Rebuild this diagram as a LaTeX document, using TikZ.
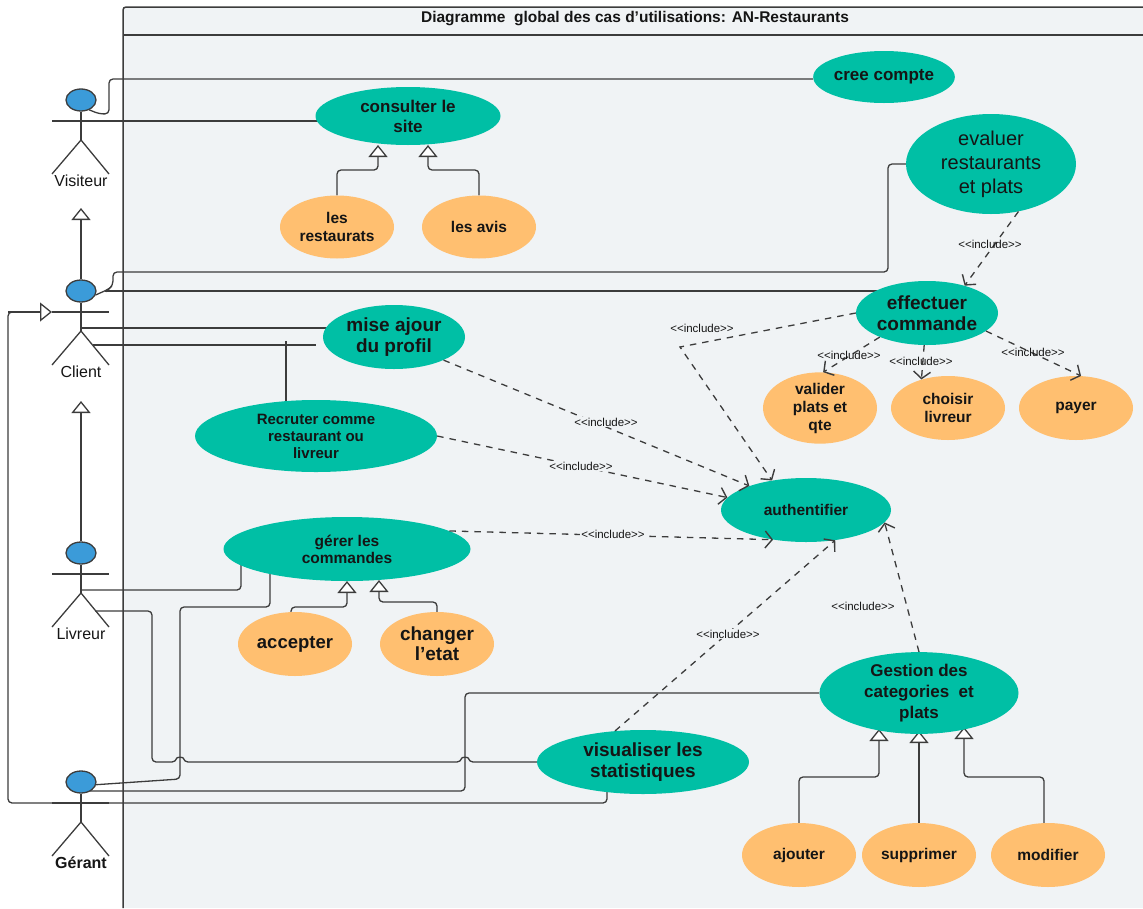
\documentclass[tikz,border=0pt]{standalone}
\usepackage{fontspec}
\setmainfont{Liberation Sans}
\usetikzlibrary{shapes.geometric,arrows.meta,backgrounds}
\definecolor{teal}{HTML}{00BFA5}
\definecolor{orangeuc}{HTML}{FFBF70}
\definecolor{bluehead}{HTML}{3B9BD9}
\definecolor{framebg}{HTML}{F0F3F5}
\definecolor{ink}{HTML}{3C3C3C}
\definecolor{txt}{HTML}{151515}
\tikzset{
  usecase/.style={ellipse,inner sep=0pt,align=center,text=txt,font=\bfseries\fontsize{17}{20}\selectfont},
  main/.style={usecase,fill=teal},
  sub/.style={usecase,fill=orangeuc,font=\bfseries\fontsize{15.5}{18}\selectfont},
  conn/.style={draw=ink,line width=1.3pt,rounded corners=4pt},
  gen/.style={conn,-{Triangle[open,fill=white,length=12pt,width=19pt]}},
  inc/.style={draw=ink,line width=1.3pt,dash pattern=on 6.5pt off 6pt,-{Straight Barb[length=7pt,width=17pt,line width=1.4pt]}},
  inclabel/.style={font=\fontsize{11.5}{13}\selectfont,text=txt,inner sep=1pt},
  actorline/.style={draw=ink,line width=1.3pt},
  actorhead/.style={ellipse,draw=ink,line width=1.3pt,fill=bluehead,minimum width=30pt,minimum height=22pt,inner sep=0pt},
  actorlabel/.style={font=\fontsize{16}{18}\selectfont,text=txt},
}
\newcommand{\umlactor}[4]{%
  \node[actorhead] (#1) at (81,#2) {};
  \coordinate (#1-l) at (52,#2+21);
  \coordinate (#1-r) at (109,#2+21);
  \coordinate (#1-hip) at (81,#2+40);
  \coordinate (#1-fl) at (52,#2+74);
  \coordinate (#1-fr) at (109,#2+74);
  \draw[actorline] (#1-l) -- (#1-r);
  \draw[actorline] (#1) -- (#1-hip);
  \draw[actorline] (#1-fl) -- (#1-hip) -- (#1-fr);
  \node[actorlabel,#4] (#1-label) at (81,#2+81) {#3};
}
\begin{document}
\begin{tikzpicture}[x=1pt,y=-1pt]
\useasboundingbox (0,0) rectangle (1143,908);
% use cases
\node[main,minimum width=128pt,minimum height=52pt] (cree) at (884,77) {cree compte};
\node[main,minimum width=185pt,minimum height=58pt] (consulter) at (408,116) {consulter le\\site};
\node[sub,minimum width=114pt,minimum height=63pt] (restaurats) at (337,227) {les\\restaurats};
\node[sub,minimum width=114pt,minimum height=63pt] (avis) at (479,227) {les avis};
\node[main,minimum width=170pt,minimum height=100pt,font=\fontsize{20}{24}\selectfont] (evaluer) at (991,164) {evaluer\\restaurants\\et plats};
\node[main,minimum width=142pt,minimum height=64pt,font=\bfseries\fontsize{19}{21}\selectfont] (effectuer) at (927,313) {effectuer\\commande};
\node[sub,minimum width=114pt,minimum height=64pt] (valider) at (820,408) {valider\\plats et\\qte};
\node[sub,minimum width=114pt,minimum height=64pt] (choisir) at (948,408) {choisir\\livreur};
\node[sub,minimum width=114pt,minimum height=64pt] (payer) at (1076,408) {payer};
\node[main,minimum width=142pt,minimum height=64pt,font=\bfseries\fontsize{19}{21}\selectfont] (mise) at (394,337) {mise ajour\\du profil};
\node[main,minimum width=242pt,minimum height=72pt,font=\bfseries\fontsize{15}{17}\selectfont] (recruter) at (316,436) {Recruter comme\\restaurant ou\\livreur};
\node[main,minimum width=170pt,minimum height=64pt,font=\bfseries\fontsize{15.5}{18}\selectfont] (auth) at (806,510) {authentifier};
\node[main,minimum width=247pt,minimum height=64pt,font=\bfseries\fontsize{15.5}{17}\selectfont] (gerer) at (347,549) {gérer les\\commandes};
\node[sub,minimum width=114pt,minimum height=64pt,font=\bfseries\fontsize{18.5}{20}\selectfont] (accepter) at (295,644) {accepter};
\node[sub,minimum width=114pt,minimum height=64pt,font=\bfseries\fontsize{19}{20}\selectfont] (changer) at (437,644) {changer\\l'etat};
\node[main,minimum width=199pt,minimum height=78pt,font=\bfseries\fontsize{17}{21}\selectfont] (gestion) at (919,693) {Gestion des\\categories~ et\\plats};
\node[main,minimum width=212pt,minimum height=64pt,font=\bfseries\fontsize{19}{21}\selectfont] (visualiser) at (643,762) {visualiser les\\statistiques};
\node[sub,minimum width=114pt,minimum height=64pt] (ajouter) at (799,855) {ajouter};
\node[sub,minimum width=114pt,minimum height=64pt] (supprimer) at (919,855) {supprimer};
\node[sub,minimum width=114pt,minimum height=64pt] (modifier) at (1048,855) {modifier};
% actors
\umlactor{visiteur}{100}{Visiteur}{}
\umlactor{client}{291}{Client}{}
\umlactor{livreur}{553}{Livreur}{}
\umlactor{gerant}{782}{Gérant}{font=\bfseries\fontsize{16}{18}\selectfont}
% title
\node[font=\bfseries\fontsize{15.5}{18}\selectfont,text=txt,inner sep=0pt] (title) at (635,19) {Diagramme~ global des cas d'utilisations: AN-Restaurants};
\coordinate (cl-hip) at (81,328);
\coordinate (cl-low) at (93,345);
\coordinate (li-hip) at (81,590);
\coordinate (li-low) at (95,611);
\coordinate (ge-low) at (90,791);
\coordinate (ge-mid) at (95,779);
\begin{scope}[on background layer]
  % frame
  \fill[framebg] (123,908) -- (123,7) -- (1143,7) -- (1143,908) -- cycle;
  \draw[ink,line width=1.5pt,rounded corners=3pt] (123,908) -- (123,7) -- (1150,7);
  \draw[ink,line width=1.5pt] (123,35) -- (1143,35);
  % actor associations
  \draw[conn] (visiteur.-50) -- ++(10,4) -| (109,79) -- (cree.west |- 0,79);
  \draw[conn] (visiteur-r) -- (visiteur-r -| consulter);
  \draw[conn] (client.-15) -- (109,289) -- (113,285) -- (113,272) -- (888,272) -- (888,164) -- (evaluer);
  \draw[conn] (105,291) -- (105,291 -| effectuer);
  \draw[conn] (cl-hip) -- (cl-hip -| mise);
  \draw[conn] (cl-low) -- (cl-low -| recruter.north) ++(-30,0) -- (286,345) -- (286,420);
  \draw[conn] (li-hip) -- (241,590) -- (241,550);
  \draw[conn] (270,550) -- (270,607) -- (180,607) -- (180,779) -- (gerant.-10);
  \draw[conn] (li-low) -- (152,611) -- (152,762) -- (176,762) .. controls (177,757) and (183,757) .. (184,762) -- (461,762) .. controls (462,757) and (468,757) .. (469,762) -- (visualiser);
  \draw[conn] (ge-low) -- (465,791) -- (465,693) -- (gestion);
  \draw[conn] (visiteur.-90) ++(0,0);
  \draw[conn] (607,770) -- (607,803) -- (8,803) -- (8,312) -- (35,312);
  % generalisations
  \draw[gen] (client) -- (81,208);
  \draw[gen] (livreur) -- (81,401);
  \draw[gen] (8,312) -- (52,312);
  \draw[gen] (restaurats.north) -- (337,170) -- (378,170) -- (378,145);
  \draw[gen] (avis.north) -- (479,170) -- (428,170) -- (428,145);
  \draw[gen] (291,620) -- (291,607) -- (347,607) -- (347,581);
  \draw[gen] (changer.north) -- (437,602) -- (379,602) -- (379,580);
  \draw[gen] (ajouter.north) -- (799,777) -- (879,777) -- (879,729);
  \draw[gen] (supprimer.north) -- (919,731);
  \draw[gen] (1044,830) -- (1044,777) -- (964,777) -- (964,727);
\end{scope}
% includes
\draw[inc] (evaluer.-60) -- (effectuer.36);
\draw[inc] (effectuer.west) -- (680,347) -- (auth.139);
\draw[inc] (effectuer.207) -- (valider.85);
\draw[inc] (effectuer.265) -- (choisir.133);
\draw[inc] (effectuer.-17) -- (payer.81);
\draw[inc] (mise.-25) -- (auth.157.5);
\draw[inc] (recruter.east) -- (auth.171.6);
\draw[inc] (gerer.10) -- (auth.222);
\draw[inc] (visualiser.132) -- (auth.-46);
\draw[inc] (gestion.north) -- (auth.-9.3);
\node[inclabel] (l1) at (990,244) {<{}<include>{}>};
\node[inclabel] (l2) at (702,328) {<{}<include>{}>};
\node[inclabel] (l3) at (849,355) {<{}<include>{}>};
\node[inclabel] (l4) at (921,361) {<{}<include>{}>};
\node[inclabel] (l5) at (1033,352) {<{}<include>{}>};
\node[inclabel,fill=framebg] (l6) at (606,422) {<{}<include>{}>};
\node[inclabel,fill=framebg] (l7) at (581,466) {<{}<include>{}>};
\node[inclabel,fill=framebg] (l8) at (613,534) {<{}<include>{}>};
\node[inclabel,fill=framebg] (l9) at (728,634) {<{}<include>{}>};
\node[inclabel,fill=framebg] (l10) at (863,606) {<{}<include>{}>};
\end{tikzpicture}
\end{document}
